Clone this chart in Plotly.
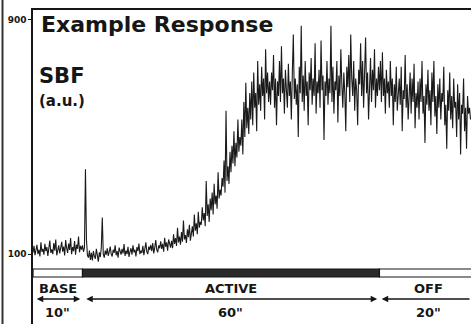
import plotly.graph_objects as go

# ---------------- data ----------------
sample_step_s = 0.2

# SBF samples (a.u.), one every 0.2 s
sbf_base = [
    105, 128, 96, 120, 132, 100, 115, 92, 140, 108,
    118, 98, 135, 110, 124, 94, 128, 146, 104, 116,
    100, 138, 112, 150, 96, 122, 130, 102, 118, 142,
    108, 126, 95, 148, 120, 104, 136, 114, 155, 100,
    124, 110, 145, 98, 132, 118, 160, 106, 128, 115,
]

sbf_active = [
    130, 108, 122, 390, 150, 96, 88, 112, 80, 104,
    78, 110, 92, 84, 118, 96, 74, 106, 90, 122,
    225, 100, 88, 112, 98, 120, 94, 108, 126, 100,
    92, 115, 104, 130, 96, 110, 88, 122, 106, 98,
    118, 102, 134, 94, 112, 100, 125, 90, 108, 120,
    98, 130, 106, 115, 92, 124, 110, 136, 100, 112,
    104, 128, 96, 118, 140, 108, 100, 126, 114, 132,
    110, 138, 102, 122, 148, 115, 106, 130, 120, 144,
    118, 135, 108, 156, 125, 140, 112, 150, 130, 122,
    145, 120, 168, 135, 155, 128, 190, 140, 160, 132,
    175, 142, 215, 150, 165, 138, 185, 158, 200, 146,
    170, 195, 160, 235, 180, 205, 168, 245, 190, 210,
    200, 260, 215, 240, 195, 350, 230, 270, 210, 290,
    250, 310, 235, 340, 270, 300, 255, 380, 290, 320,
    300, 360, 330, 420, 310, 590, 350, 400, 340, 450,
    380, 470, 410, 520, 400, 480, 430, 560, 450, 500,
    470, 560, 440, 620, 500, 685, 530, 600, 510, 650,
    560, 690, 540, 720, 600, 650, 520, 760, 610, 680,
    590, 740, 640, 700, 560, 800, 650, 720, 620, 690,
    610, 720, 660, 780, 600, 700, 540, 690, 640, 760,
    620, 810, 650, 700, 580, 730, 660, 600, 750, 640,
    690, 560, 720, 850, 630, 700, 610, 680, 500, 740,
    650, 880, 620, 710, 590, 760, 640, 690, 540, 720,
    660, 770, 610, 700, 640, 820, 580, 690, 650, 730,
    600, 830, 660, 710, 490, 690, 640, 760, 610, 700,
    650, 880, 620, 740, 580, 690, 660, 760, 550, 710,
    640, 800, 680, 600, 720, 650, 520, 740, 670, 780,
    620, 850, 700, 640, 760, 590, 700, 660, 540, 730,
    680, 820, 640, 760, 600, 700, 840, 650, 720, 560,
    690, 770, 620, 730, 660, 800, 600, 700, 640, 740,
]

sbf_off = [
    660, 760, 620, 790, 640, 700, 580, 730, 650, 690,
    600, 760, 640, 700, 540, 680, 620, 740, 590, 660,
    700, 610, 740, 520, 660, 630, 780, 600, 680, 560,
    640, 720, 580, 700, 620, 750, 530, 650, 600, 690,
    560, 700, 620, 760, 580, 640, 480, 680, 610, 730,
    590, 660, 540, 720, 620, 760, 570, 640, 510, 680,
    600, 700, 560, 650, 620, 740, 540, 610, 460, 660,
    590, 720, 560, 640, 530, 700, 600, 620, 500, 680,
    560, 650, 440, 610, 580, 700, 520, 600, 460, 640,
    580, 600, 560,
]

phase_names = ["BASE", "ACTIVE", "OFF"]
phase_start = [0, 10, 70]
phase_end = [10, 70, 90]
phase_duration_labels = ['10"', '60"', '20"']
phase_filled = [False, True, False]

y_tick_vals = [100, 900]
y_tick_text = ["100", "900"]

title_text = "Example Response"
ylabel_main = "SBF"
ylabel_unit = "(a.u.)"

# ---------------- build ----------------
sbf = sbf_base + sbf_active + sbf_off
time_s = [i * sample_step_s for i in range(len(sbf))]

X_MAX = 88.5
W, H = 471, 324
ML, MT = 33, 10
PLOT_H = H - MT
TL_PX = 62                      # height of the timeline strip (px)
tl_frac = TL_PX / PLOT_H

FONT = "DejaVu Sans"
INK = "#161616"

fig = go.Figure()
fig.add_trace(go.Scatter(
    x=time_s, y=sbf, mode="lines",
    line=dict(color="#1a1a1a", width=1.1),
    xaxis="x", yaxis="y", hoverinfo="skip",
))

shapes = []
annotations = []

# timeline bars
for name, s, e, filled in zip(phase_names, phase_start, phase_end, phase_filled):
    shapes.append(dict(
        type="rect", xref="x", yref="y2",
        x0=s, x1=min(e, X_MAX + 2), y0=47, y1=55,
        fillcolor="#2a2a2a" if filled else "white",
        line=dict(color=INK, width=1.2),
        layer="above",
    ))

gap = 0.45
for name, s, e, dur in zip(phase_names, phase_start, phase_end, phase_duration_labels):
    mid = (s + e) / 2
    annotations.append(dict(
        x=mid, y=36, xref="x", yref="y2", text=f"<b>{name}</b>",
        showarrow=False, font=dict(family=FONT, size=13, color=INK),
        xanchor="center", yanchor="middle",
    ))
    annotations.append(dict(
        x=mid, y=12, xref="x", yref="y2", text=f"<b>{dur}</b>",
        showarrow=False, font=dict(family=FONT, size=13, color=INK),
        xanchor="center", yanchor="middle",
    ))
    if e <= X_MAX:
        annotations.append(dict(
            x=e - gap, y=25, ax=s + gap, ay=25,
            xref="x", yref="y2", axref="x", ayref="y2",
            text="", showarrow=True, arrowside="end+start",
            arrowhead=2, arrowsize=1, arrowwidth=1.3, arrowcolor=INK,
        ))
    else:
        annotations.append(dict(
            x=s + gap, y=25, ax=X_MAX, ay=25,
            xref="x", yref="y2", axref="x", ayref="y2",
            text="", showarrow=True, arrowside="end",
            arrowhead=2, arrowsize=1, arrowwidth=1.3, arrowcolor=INK,
        ))

# titles inside the plot
annotations += [
    dict(x=6 / (W - ML), y=(H - 25) / PLOT_H, xref="paper", yref="paper",
         text=f"<b>{title_text}</b>", showarrow=False,
         font=dict(family=FONT, size=22, color=INK),
         xanchor="left", yanchor="middle"),
    dict(x=4 / (W - ML), y=(H - 76) / PLOT_H, xref="paper", yref="paper",
         text=f"<b>{ylabel_main}</b>", showarrow=False,
         font=dict(family=FONT, size=21, color=INK),
         xanchor="left", yanchor="middle"),
    dict(x=4 / (W - ML), y=(H - 101) / PLOT_H, xref="paper", yref="paper",
         text=f"<b>{ylabel_unit}</b>", showarrow=False,
         font=dict(family=FONT, size=15, color=INK),
         xanchor="left", yanchor="middle"),
]

# scanned page edge at far left
shapes.append(dict(type="line", xref="paper", yref="paper",
                   x0=-30.5 / (W - ML), x1=-30.5 / (W - ML),
                   y0=0, y1=1 + MT / PLOT_H,
                   line=dict(color="#333333", width=2)))

fig.update_layout(
    width=W, height=H,
    margin=dict(l=ML, r=0, t=MT, b=0, pad=0, autoexpand=False),
    paper_bgcolor="white", plot_bgcolor="white",
    showlegend=False,
    font=dict(family=FONT, color=INK),
    xaxis=dict(range=[0, X_MAX], side="top", anchor="y", automargin=False,
               showline=True, linecolor=INK, linewidth=1.5,
               showticklabels=False, ticks="", showgrid=False, zeroline=False),
    yaxis=dict(domain=[tl_frac, 1], range=[73, 934], anchor="x",
               automargin=False,
               tickvals=y_tick_vals, ticktext=y_tick_text,
               ticks="outside", ticklen=3, tickwidth=1, tickcolor=INK,
               tickfont=dict(family=FONT, size=9, color=INK, weight="bold"),
               showline=True, linecolor=INK, linewidth=1.5,
               showgrid=False, zeroline=False),
    yaxis2=dict(domain=[0, tl_frac], range=[0, TL_PX], anchor="x",
                automargin=False,
                showline=True, linecolor=INK, linewidth=1.5,
                showticklabels=False, ticks="", showgrid=False, zeroline=False),
    shapes=shapes,
    annotations=annotations,
)

fig.write_html(
    "out.html",
    config={"displayModeBar": False},
    post_script="document.body.style.margin='0';document.body.style.padding='0';"
                "document.body.style.overflow='hidden';",
)
